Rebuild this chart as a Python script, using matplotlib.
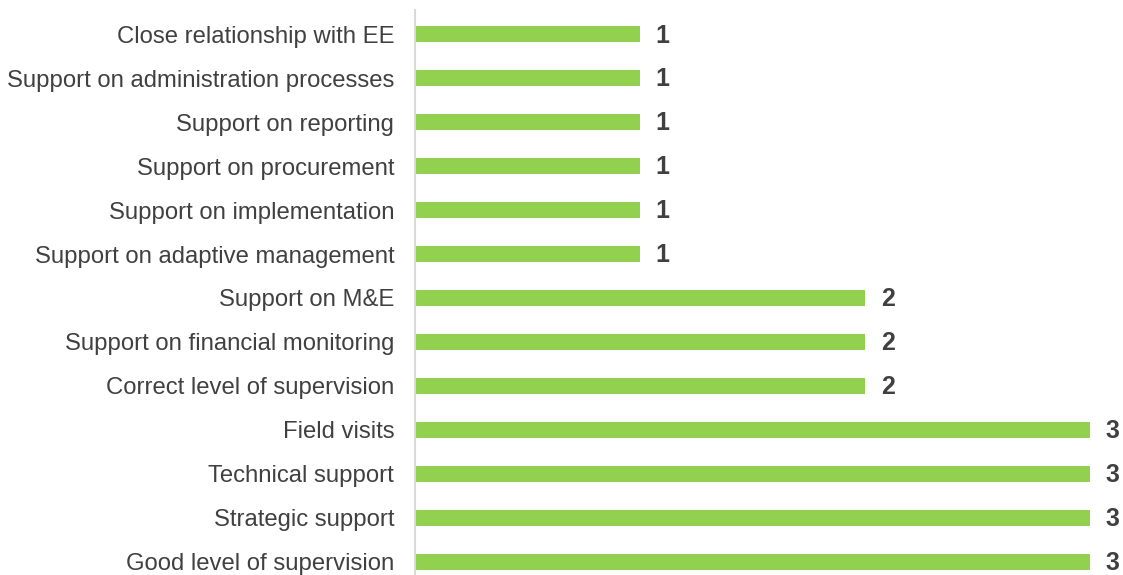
import matplotlib

matplotlib.use("Agg")
import matplotlib.pyplot as plt

# categories listed bottom-to-top, as barh draws them
categories = [
    "Good level of supervision",
    "Strategic support",
    "Technical support",
    "Field visits",
    "Correct level of supervision",
    "Support on financial monitoring",
    "Support on M&E",
    "Support on adaptive management",
    "Support on implementation",
    "Support on procurement",
    "Support on reporting",
    "Support on administration processes",
    "Close relationship with EE",
]
counts = [3, 3, 3, 3, 2, 2, 2, 1, 1, 1, 1, 1, 1]

GREEN = "#92d050"
INK = "#404040"
AXIS = "#d9d9d9"

plt.rcParams["font.family"] = ["Liberation Sans", "DejaVu Sans"]

W, H = 1123, 575
fig = plt.figure(figsize=(W / 100, H / 100), dpi=100)
ax = fig.add_axes((415 / W, 0.0, 675 / W, 565 / H))

y = list(range(len(categories)))
ax.barh(y, counts, height=0.36, color=GREEN, zorder=2)

# value labels just right of each bar end
for yi, v in zip(y, counts):
    ax.text(v + 0.07, yi - 0.03, f"{v}", ha="left", va="center", fontsize=18,
            fontweight="bold", color=INK, clip_on=False)

ax.set_xlim(0, 3)
ax.set_ylim(-0.3, 12.55)
ax.set_yticks(y)
ax.set_yticklabels(categories, fontsize=17.2, color=INK)
ax.tick_params(axis="y", length=0, pad=15)
ax.set_xticks([])

for side in ("top", "right", "bottom"):
    ax.spines[side].set_visible(False)
ax.spines["left"].set_color(AXIS)
ax.spines["left"].set_linewidth(1.5)

fig.savefig("out.png", dpi=100, facecolor="white")
